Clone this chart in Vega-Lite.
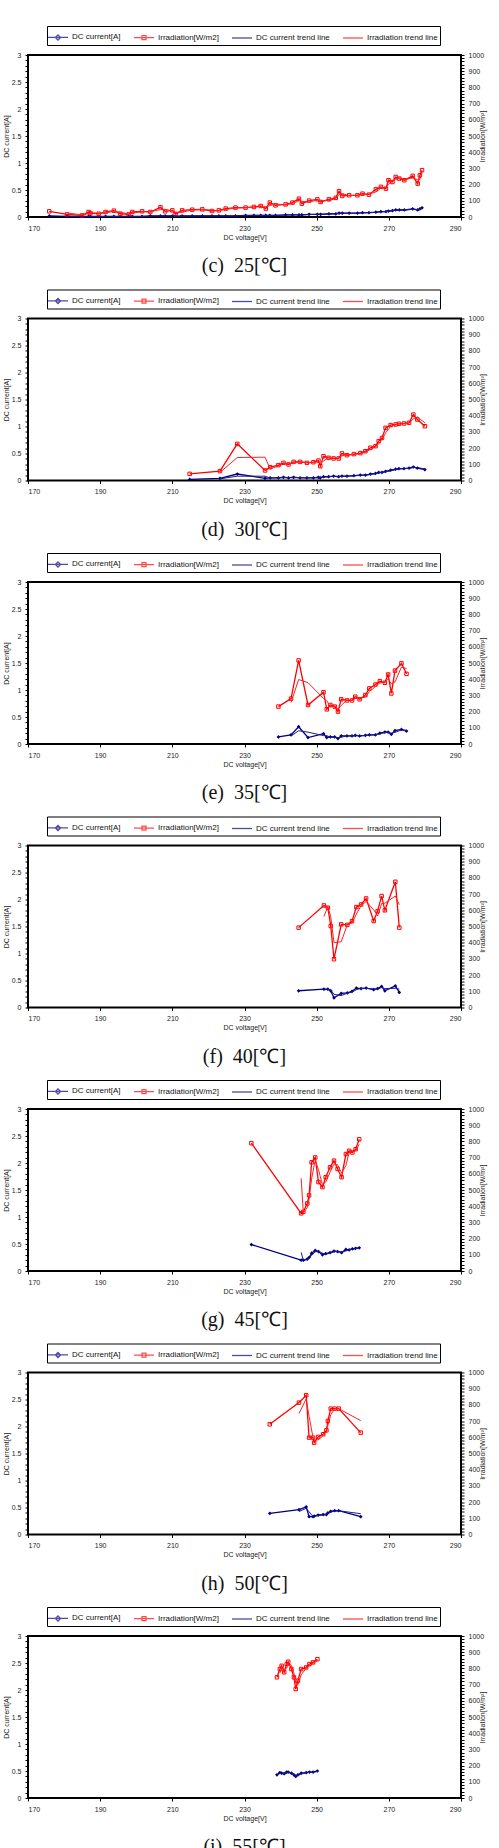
{
"$schema": "https://vega.github.io/schema/vega-lite/v6.json",
"background": "white",
"padding": {"left": 1, "right": 1, "top": 24, "bottom": 0},
"spacing": 10.5,
"config": {
  "view": {"stroke": "black", "strokeWidth": 2},
  "axis": {"labelFont": "Liberation Sans", "labelFontSize": 7, "labelColor": "#222", "titleFont": "Liberation Sans", "titleFontSize": 7, "titleFontWeight": "normal", "titleColor": "#222", "tickColor": "black", "tickSize": 3, "domain": false, "grid": false, "labelPadding": 4, "titlePadding": 2, "labelOverlap": false},
  "legend": {"labelFont": "Liberation Sans", "labelFontSize": 8, "labelColor": "#111", "symbolStrokeWidth": 1.3, "strokeColor": "black", "padding": 2, "columnPadding": 10, "labelOffset": 5, "symbolSize": 256, "labelLimit": 200},
  "title": {"orient": "bottom", "anchor": "middle", "font": "Liberation Serif", "fontSize": 20, "fontWeight": "normal", "color": "#111", "offset": 16}
},
"resolve": {"scale": {"color": "independent", "shape": "independent"}, "legend": {"color": "independent", "shape": "independent"}},
"datasets": {
"p25": [
{"i":1,"V":175.9,"W":35,"I":0.02},{"i":2,"V":180.8,"W":16,"I":0.01},{"i":3,"V":185,"W":10,"I":0.01},{"i":4,"V":186.8,"W":31,"I":0.01},{"i":5,"V":187.3,"W":24,"I":0.01},{"i":6,"V":189.6,"W":20,"I":0.01},{"i":7,"V":191.5,"W":31,"I":0.01},{"i":8,"V":193.8,"W":39,"I":0.01},{"i":9,"V":195.6,"W":20,"I":0.01},{"i":10,"V":197.9,"W":16,"I":0.01},{"i":11,"V":198.9,"W":31,"I":0.01},{"i":12,"V":201.6,"W":35,"I":0.01},{"i":13,"V":203.9,"W":31,"I":0.02},{"i":14,"V":206.7,"W":60,"I":0.02},{"i":15,"V":208,"W":35,"I":0.02},{"i":16,"V":210,"W":41,"I":0.02},{"i":17,"V":210.9,"W":18,"I":0.01},{"i":18,"V":212.7,"W":41,"I":0.02},{"i":19,"V":215.5,"W":45,"I":0.02},{"i":20,"V":218.3,"W":47,"I":0.02},{"i":21,"V":221,"W":37,"I":0.02},{"i":22,"V":222.9,"W":41,"I":0.02},{"i":23,"V":224.8,"W":52,"I":0.02},{"i":24,"V":227.5,"W":58,"I":0.02},{"i":25,"V":230.3,"W":58,"I":0.03},{"i":26,"V":232.6,"W":62,"I":0.03},{"i":27,"V":234.5,"W":68,"I":0.03},{"i":28,"V":235.9,"W":52,"I":0.03},{"i":29,"V":237,"W":89,"I":0.03},{"i":30,"V":238.6,"W":72,"I":0.03},{"i":31,"V":241.4,"W":78,"I":0.04},{"i":32,"V":243.3,"W":89,"I":0.04},{"i":33,"V":245.1,"W":113,"I":0.04},{"i":34,"V":245.9,"W":82,"I":0.04},{"i":35,"V":247.9,"W":101,"I":0.05},{"i":36,"V":250.2,"W":109,"I":0.05},{"i":37,"V":251.1,"W":93,"I":0.05},{"i":38,"V":253.4,"W":109,"I":0.06},{"i":39,"V":255.3,"W":118,"I":0.06},{"i":40,"V":256.2,"W":159,"I":0.07},{"i":41,"V":257.1,"W":130,"I":0.07},{"i":42,"V":259,"W":134,"I":0.07},{"i":43,"V":261.3,"W":134,"I":0.07},{"i":44,"V":262.7,"W":144,"I":0.08},{"i":45,"V":264.5,"W":138,"I":0.08},{"i":46,"V":266.4,"W":171,"I":0.09},{"i":47,"V":267.8,"W":186,"I":0.1},{"i":48,"V":269.2,"W":175,"I":0.1},{"i":49,"V":269.9,"W":227,"I":0.11},{"i":50,"V":271,"W":216,"I":0.12},{"i":51,"V":271.9,"W":247,"I":0.13},{"i":52,"V":272.9,"W":237,"I":0.13},{"i":53,"V":274.3,"W":227,"I":0.13},{"i":54,"V":276.6,"W":254,"I":0.15},{"i":55,"V":278,"W":206,"I":0.13},{"i":56,"V":278.6,"W":258,"I":0.15},{"i":57,"V":279.2,"W":289,"I":0.17}
],
"p30": [
{"i":1,"V":214.8,"W":41,"I":0.02},{"i":2,"V":223.2,"W":58,"I":0.04},{"i":3,"V":228,"W":226,"I":0.12},{"i":4,"V":235.7,"W":62,"I":0.04},{"i":5,"V":237.1,"W":82,"I":0.05},{"i":6,"V":239.4,"W":95,"I":0.05},{"i":7,"V":240.8,"W":109,"I":0.06},{"i":8,"V":242.2,"W":99,"I":0.05},{"i":9,"V":243.6,"W":115,"I":0.06},{"i":10,"V":245.4,"W":115,"I":0.05},{"i":11,"V":247.3,"W":109,"I":0.05},{"i":12,"V":249.1,"W":113,"I":0.05},{"i":13,"V":250.5,"W":123,"I":0.06},{"i":14,"V":251,"W":88,"I":0.05},{"i":15,"V":251.9,"W":150,"I":0.07},{"i":16,"V":253.3,"W":140,"I":0.07},{"i":17,"V":254.7,"W":136,"I":0.08},{"i":18,"V":256.1,"W":136,"I":0.07},{"i":19,"V":257,"W":167,"I":0.08},{"i":20,"V":258.4,"W":156,"I":0.08},{"i":21,"V":260.3,"W":163,"I":0.09},{"i":22,"V":262.1,"W":169,"I":0.1},{"i":23,"V":263.5,"W":181,"I":0.1},{"i":24,"V":264.9,"W":202,"I":0.12},{"i":25,"V":266.3,"W":212,"I":0.13},{"i":26,"V":267.2,"W":243,"I":0.15},{"i":27,"V":268.1,"W":263,"I":0.15},{"i":28,"V":269.1,"W":325,"I":0.17},{"i":29,"V":270.5,"W":342,"I":0.19},{"i":30,"V":271.9,"W":346,"I":0.21},{"i":31,"V":272.8,"W":350,"I":0.22},{"i":32,"V":274.2,"W":352,"I":0.22},{"i":33,"V":275.6,"W":356,"I":0.23},{"i":34,"V":276.8,"W":407,"I":0.25},{"i":35,"V":277.9,"W":377,"I":0.23},{"i":36,"V":280,"W":335,"I":0.2}
],
"p35": [
{"i":1,"V":239.4,"W":231,"I":0.13},{"i":2,"V":242.9,"W":280,"I":0.17},{"i":3,"V":245,"W":516,"I":0.32},{"i":4,"V":247.6,"W":241,"I":0.12},{"i":5,"V":251.9,"W":320,"I":0.19},{"i":6,"V":252.8,"W":214,"I":0.12},{"i":7,"V":253.8,"W":241,"I":0.13},{"i":8,"V":255,"W":231,"I":0.13},{"i":9,"V":255.9,"W":200,"I":0.1},{"i":10,"V":256.8,"W":276,"I":0.15},{"i":11,"V":258.4,"W":269,"I":0.15},{"i":12,"V":259.8,"W":269,"I":0.15},{"i":13,"V":260.7,"W":292,"I":0.16},{"i":14,"V":261.9,"W":276,"I":0.15},{"i":15,"V":263.5,"W":302,"I":0.16},{"i":16,"V":264.6,"W":343,"I":0.17},{"i":17,"V":266.3,"W":367,"I":0.17},{"i":18,"V":267.5,"W":388,"I":0.2},{"i":19,"V":268.9,"W":378,"I":0.22},{"i":20,"V":269.8,"W":429,"I":0.22},{"i":21,"V":270.7,"W":312,"I":0.18},{"i":22,"V":271.7,"W":453,"I":0.25},{"i":23,"V":273.5,"W":498,"I":0.27},{"i":24,"V":274.9,"W":433,"I":0.24}
],
"p40": [
{"i":1,"V":245,"W":493,"I":0.31},{"i":2,"V":252,"W":630,"I":0.34},{"i":3,"V":253.1,"W":616,"I":0.34},{"i":4,"V":253.9,"W":503,"I":0.31},{"i":5,"V":254.8,"W":298,"I":0.18},{"i":6,"V":256.8,"W":513,"I":0.26},{"i":7,"V":258.5,"W":510,"I":0.27},{"i":8,"V":259.8,"W":533,"I":0.3},{"i":9,"V":261,"W":620,"I":0.36},{"i":10,"V":262.3,"W":636,"I":0.35},{"i":11,"V":263.7,"W":673,"I":0.36},{"i":12,"V":265.8,"W":534,"I":0.33},{"i":13,"V":266.9,"W":595,"I":0.35},{"i":14,"V":268,"W":688,"I":0.39},{"i":15,"V":268.9,"W":600,"I":0.31},{"i":16,"V":271.8,"W":776,"I":0.4},{"i":17,"V":272.9,"W":493,"I":0.28}
],
"p45": [
{"i":1,"V":231.9,"W":789,"I":0.49},{"i":2,"V":245.7,"W":356,"I":0.2},{"i":3,"V":246.3,"W":365,"I":0.2},{"i":4,"V":247.4,"W":417,"I":0.22},{"i":5,"V":247.9,"W":467,"I":0.25},{"i":6,"V":248.6,"W":671,"I":0.33},{"i":7,"V":249.6,"W":701,"I":0.38},{"i":8,"V":250.5,"W":549,"I":0.36},{"i":9,"V":251.6,"W":518,"I":0.3},{"i":10,"V":252.5,"W":579,"I":0.32},{"i":11,"V":253.7,"W":640,"I":0.34},{"i":12,"V":254.8,"W":681,"I":0.37},{"i":13,"V":255.8,"W":630,"I":0.36},{"i":14,"V":256.9,"W":579,"I":0.34},{"i":15,"V":258.1,"W":722,"I":0.4},{"i":16,"V":259,"W":742,"I":0.39},{"i":17,"V":259.9,"W":732,"I":0.41},{"i":18,"V":260.8,"W":752,"I":0.42},{"i":19,"V":261.8,"W":813,"I":0.43}
],
"p50": [
{"i":1,"V":237,"W":680,"I":0.39},{"i":2,"V":245.1,"W":814,"I":0.46},{"i":3,"V":247.1,"W":860,"I":0.51},{"i":4,"V":247.9,"W":598,"I":0.33},{"i":5,"V":249,"W":598,"I":0.33},{"i":6,"V":249.3,"W":567,"I":0.34},{"i":7,"V":250.4,"W":602,"I":0.36},{"i":8,"V":251.8,"W":619,"I":0.37},{"i":9,"V":252.7,"W":643,"I":0.37},{"i":10,"V":253.1,"W":701,"I":0.4},{"i":11,"V":253.9,"W":777,"I":0.43},{"i":12,"V":255,"W":777,"I":0.44},{"i":13,"V":256.1,"W":777,"I":0.44},{"i":14,"V":262.2,"W":629,"I":0.33}
],
"p55": [
{"i":1,"V":239,"W":745,"I":0.43},{"i":2,"V":239.8,"W":796,"I":0.47},{"i":3,"V":240.3,"W":816,"I":0.46},{"i":4,"V":241,"W":776,"I":0.45},{"i":5,"V":241.7,"W":827,"I":0.48},{"i":6,"V":242.1,"W":841,"I":0.48},{"i":7,"V":243,"W":796,"I":0.46},{"i":8,"V":243.7,"W":745,"I":0.43},{"i":9,"V":244.2,"W":673,"I":0.4},{"i":10,"V":244.8,"W":724,"I":0.43},{"i":11,"V":245.7,"W":796,"I":0.46},{"i":12,"V":247.1,"W":806,"I":0.47},{"i":13,"V":248,"W":827,"I":0.48},{"i":14,"V":249,"W":837,"I":0.48},{"i":15,"V":250.2,"W":857,"I":0.5}
]
},
"vconcat": [
{"width":433,"height":162,"title":{"text":"(c)\u00a0 25[℃]"},"data":{"name":"p25"},
"layer":[
{"mark":{"type":"line","color":"#000080","strokeWidth":1.3,"point":{"shape":"diamond","filled":true,"size":14,"color":"#000080"}},
"encoding":{"x":{"field":"V","type":"quantitative","scale":{"domain":[170,290],"nice":false,"zero":false},"axis":{"title":"DC voltage[V]","values":[170,190,210,230,250,270,290],"format":"d"}},
"y":{"field":"I","type":"quantitative","scale":{"domain":[0,3],"nice":false},"axis":{"title":"DC current[A]","orient":"left","values":[0,0.1,0.2,0.3,0.4,0.5,0.6,0.7,0.8,0.9,1,1.1,1.2,1.3,1.4,1.5,1.6,1.7,1.8,1.9,2,2.1,2.2,2.3,2.4,2.5,2.6,2.7,2.8,2.9,3],"labelExpr":"round(datum.value*10) % 5 == 0 ? format(datum.value, '~g') : ''"}},
"order":{"field":"i","type":"quantitative"}}},
{"mark":{"type":"line","color":"#FF0000","strokeWidth":1.3,"point":{"shape":"square","filled":false,"size":12,"color":"#FF0000","strokeWidth":1}},
"encoding":{"x":{"field":"V","type":"quantitative"},
"y":{"field":"W","type":"quantitative","scale":{"domain":[0,1000],"nice":false},"axis":{"title":"Irradiation[W/m²]","orient":"right","titleAngle":270,"values":[0,20,40,60,80,100,120,140,160,180,200,220,240,260,280,300,320,340,360,380,400,420,440,460,480,500,520,540,560,580,600,620,640,660,680,700,720,740,760,780,800,820,840,860,880,900,920,940,960,980,1000],"labelExpr":"datum.value % 100 == 0 ? format(datum.value, 'd') : ''"}},
"order":{"field":"i","type":"quantitative"}}},
{"transform":[{"window":[{"op":"mean","field":"I","as":"It"},{"op":"row_number","as":"rn"}],"frame":[-1,0],"sort":[{"field":"i"}]},{"filter":"datum.rn > 1"}],
"mark":{"type":"line","color":"#1c1c8e","strokeWidth":1},
"encoding":{"x":{"field":"V","type":"quantitative"},"y":{"field":"It","type":"quantitative","scale":{"domain":[0,3],"nice":false},"axis":null},"order":{"field":"i","type":"quantitative"}}},
{"transform":[{"window":[{"op":"mean","field":"W","as":"Wt"},{"op":"row_number","as":"rn"}],"frame":[-1,0],"sort":[{"field":"i"}]},{"filter":"datum.rn > 1"}],
"mark":{"type":"line","color":"#FF2020","strokeWidth":1},
"encoding":{"x":{"field":"V","type":"quantitative"},"y":{"field":"Wt","type":"quantitative","scale":{"domain":[0,1000],"nice":false},"axis":null},"order":{"field":"i","type":"quantitative"}}},
{"transform":[{"filter":"false"}],"mark":{"type":"point","filled":false},
"encoding":{"color":{"field":"s","type":"nominal","scale":{"domain":["DC current[A]","Irradiation[W/m2]","DC current trend line","Irradiation trend line"],"range":["#000080","#FF0000","#000080","#FF0000"]},"legend":{"title":null,"orient":"none","legendX":19,"legendY":-29,"direction":"horizontal"}},
"shape":{"field":"s","type":"nominal","scale":{"domain":["DC current[A]","Irradiation[W/m2]","DC current trend line","Irradiation trend line"],"range":["M-1.25,0H1.25M0,-0.32L0.32,0L0,0.32L-0.32,0Z","M-1.25,0H1.25M-0.25,-0.25H0.25V0.25H-0.25Z","M-1.25,0H1.25","M-1.25,0H1.25"]},"legend":{"title":null,"orient":"none","legendX":19,"legendY":-29,"direction":"horizontal"}}}}
],
"resolve":{"scale":{"y":"independent"}}},

{"width":433,"height":162,"title":{"text":"(d)\u00a0 30[℃]"},"data":{"name":"p30"},
"layer":[
{"mark":{"type":"line","color":"#000080","strokeWidth":1.3,"point":{"shape":"diamond","filled":true,"size":14,"color":"#000080"}},
"encoding":{"x":{"field":"V","type":"quantitative","scale":{"domain":[170,290],"nice":false,"zero":false},"axis":{"title":"DC voltage[V]","values":[170,190,210,230,250,270,290],"format":"d"}},
"y":{"field":"I","type":"quantitative","scale":{"domain":[0,3],"nice":false},"axis":{"title":"DC current[A]","orient":"left","values":[0,0.1,0.2,0.3,0.4,0.5,0.6,0.7,0.8,0.9,1,1.1,1.2,1.3,1.4,1.5,1.6,1.7,1.8,1.9,2,2.1,2.2,2.3,2.4,2.5,2.6,2.7,2.8,2.9,3],"labelExpr":"round(datum.value*10) % 5 == 0 ? format(datum.value, '~g') : ''"}},
"order":{"field":"i","type":"quantitative"}}},
{"mark":{"type":"line","color":"#FF0000","strokeWidth":1.3,"point":{"shape":"square","filled":false,"size":12,"color":"#FF0000","strokeWidth":1}},
"encoding":{"x":{"field":"V","type":"quantitative"},
"y":{"field":"W","type":"quantitative","scale":{"domain":[0,1000],"nice":false},"axis":{"title":"Irradiation[W/m²]","orient":"right","titleAngle":270,"values":[0,20,40,60,80,100,120,140,160,180,200,220,240,260,280,300,320,340,360,380,400,420,440,460,480,500,520,540,560,580,600,620,640,660,680,700,720,740,760,780,800,820,840,860,880,900,920,940,960,980,1000],"labelExpr":"datum.value % 100 == 0 ? format(datum.value, 'd') : ''"}},
"order":{"field":"i","type":"quantitative"}}},
{"transform":[{"window":[{"op":"mean","field":"I","as":"It"},{"op":"row_number","as":"rn"}],"frame":[-1,0],"sort":[{"field":"i"}]},{"filter":"datum.rn > 1"}],
"mark":{"type":"line","color":"#1c1c8e","strokeWidth":1},
"encoding":{"x":{"field":"V","type":"quantitative"},"y":{"field":"It","type":"quantitative","scale":{"domain":[0,3],"nice":false},"axis":null},"order":{"field":"i","type":"quantitative"}}},
{"transform":[{"window":[{"op":"mean","field":"W","as":"Wt"},{"op":"row_number","as":"rn"}],"frame":[-1,0],"sort":[{"field":"i"}]},{"filter":"datum.rn > 1"}],
"mark":{"type":"line","color":"#FF2020","strokeWidth":1},
"encoding":{"x":{"field":"V","type":"quantitative"},"y":{"field":"Wt","type":"quantitative","scale":{"domain":[0,1000],"nice":false},"axis":null},"order":{"field":"i","type":"quantitative"}}},
{"transform":[{"filter":"false"}],"mark":{"type":"point","filled":false},
"encoding":{"color":{"field":"s","type":"nominal","scale":{"domain":["DC current[A]","Irradiation[W/m2]","DC current trend line","Irradiation trend line"],"range":["#000080","#FF0000","#000080","#FF0000"]},"legend":{"title":null,"orient":"none","legendX":19,"legendY":-29,"direction":"horizontal"}},
"shape":{"field":"s","type":"nominal","scale":{"domain":["DC current[A]","Irradiation[W/m2]","DC current trend line","Irradiation trend line"],"range":["M-1.25,0H1.25M0,-0.32L0.32,0L0,0.32L-0.32,0Z","M-1.25,0H1.25M-0.25,-0.25H0.25V0.25H-0.25Z","M-1.25,0H1.25","M-1.25,0H1.25"]},"legend":{"title":null,"orient":"none","legendX":19,"legendY":-29,"direction":"horizontal"}}}}
],
"resolve":{"scale":{"y":"independent"}}},

{"width":433,"height":162,"title":{"text":"(e)\u00a0 35[℃]"},"data":{"name":"p35"},
"layer":[
{"mark":{"type":"line","color":"#000080","strokeWidth":1.3,"point":{"shape":"diamond","filled":true,"size":14,"color":"#000080"}},
"encoding":{"x":{"field":"V","type":"quantitative","scale":{"domain":[170,290],"nice":false,"zero":false},"axis":{"title":"DC voltage[V]","values":[170,190,210,230,250,270,290],"format":"d"}},
"y":{"field":"I","type":"quantitative","scale":{"domain":[0,3],"nice":false},"axis":{"title":"DC current[A]","orient":"left","values":[0,0.1,0.2,0.3,0.4,0.5,0.6,0.7,0.8,0.9,1,1.1,1.2,1.3,1.4,1.5,1.6,1.7,1.8,1.9,2,2.1,2.2,2.3,2.4,2.5,2.6,2.7,2.8,2.9,3],"labelExpr":"round(datum.value*10) % 5 == 0 ? format(datum.value, '~g') : ''"}},
"order":{"field":"i","type":"quantitative"}}},
{"mark":{"type":"line","color":"#FF0000","strokeWidth":1.3,"point":{"shape":"square","filled":false,"size":12,"color":"#FF0000","strokeWidth":1}},
"encoding":{"x":{"field":"V","type":"quantitative"},
"y":{"field":"W","type":"quantitative","scale":{"domain":[0,1000],"nice":false},"axis":{"title":"Irradiation[W/m²]","orient":"right","titleAngle":270,"values":[0,20,40,60,80,100,120,140,160,180,200,220,240,260,280,300,320,340,360,380,400,420,440,460,480,500,520,540,560,580,600,620,640,660,680,700,720,740,760,780,800,820,840,860,880,900,920,940,960,980,1000],"labelExpr":"datum.value % 100 == 0 ? format(datum.value, 'd') : ''"}},
"order":{"field":"i","type":"quantitative"}}},
{"transform":[{"window":[{"op":"mean","field":"I","as":"It"},{"op":"row_number","as":"rn"}],"frame":[-1,0],"sort":[{"field":"i"}]},{"filter":"datum.rn > 1"}],
"mark":{"type":"line","color":"#1c1c8e","strokeWidth":1},
"encoding":{"x":{"field":"V","type":"quantitative"},"y":{"field":"It","type":"quantitative","scale":{"domain":[0,3],"nice":false},"axis":null},"order":{"field":"i","type":"quantitative"}}},
{"transform":[{"window":[{"op":"mean","field":"W","as":"Wt"},{"op":"row_number","as":"rn"}],"frame":[-1,0],"sort":[{"field":"i"}]},{"filter":"datum.rn > 1"}],
"mark":{"type":"line","color":"#FF2020","strokeWidth":1},
"encoding":{"x":{"field":"V","type":"quantitative"},"y":{"field":"Wt","type":"quantitative","scale":{"domain":[0,1000],"nice":false},"axis":null},"order":{"field":"i","type":"quantitative"}}},
{"transform":[{"filter":"false"}],"mark":{"type":"point","filled":false},
"encoding":{"color":{"field":"s","type":"nominal","scale":{"domain":["DC current[A]","Irradiation[W/m2]","DC current trend line","Irradiation trend line"],"range":["#000080","#FF0000","#000080","#FF0000"]},"legend":{"title":null,"orient":"none","legendX":19,"legendY":-29,"direction":"horizontal"}},
"shape":{"field":"s","type":"nominal","scale":{"domain":["DC current[A]","Irradiation[W/m2]","DC current trend line","Irradiation trend line"],"range":["M-1.25,0H1.25M0,-0.32L0.32,0L0,0.32L-0.32,0Z","M-1.25,0H1.25M-0.25,-0.25H0.25V0.25H-0.25Z","M-1.25,0H1.25","M-1.25,0H1.25"]},"legend":{"title":null,"orient":"none","legendX":19,"legendY":-29,"direction":"horizontal"}}}}
],
"resolve":{"scale":{"y":"independent"}}},

{"width":433,"height":162,"title":{"text":"(f)\u00a0 40[℃]"},"data":{"name":"p40"},
"layer":[
{"mark":{"type":"line","color":"#000080","strokeWidth":1.3,"point":{"shape":"diamond","filled":true,"size":14,"color":"#000080"}},
"encoding":{"x":{"field":"V","type":"quantitative","scale":{"domain":[170,290],"nice":false,"zero":false},"axis":{"title":"DC voltage[V]","values":[170,190,210,230,250,270,290],"format":"d"}},
"y":{"field":"I","type":"quantitative","scale":{"domain":[0,3],"nice":false},"axis":{"title":"DC current[A]","orient":"left","values":[0,0.1,0.2,0.3,0.4,0.5,0.6,0.7,0.8,0.9,1,1.1,1.2,1.3,1.4,1.5,1.6,1.7,1.8,1.9,2,2.1,2.2,2.3,2.4,2.5,2.6,2.7,2.8,2.9,3],"labelExpr":"round(datum.value*10) % 5 == 0 ? format(datum.value, '~g') : ''"}},
"order":{"field":"i","type":"quantitative"}}},
{"mark":{"type":"line","color":"#FF0000","strokeWidth":1.3,"point":{"shape":"square","filled":false,"size":12,"color":"#FF0000","strokeWidth":1}},
"encoding":{"x":{"field":"V","type":"quantitative"},
"y":{"field":"W","type":"quantitative","scale":{"domain":[0,1000],"nice":false},"axis":{"title":"Irradiation[W/m²]","orient":"right","titleAngle":270,"values":[0,20,40,60,80,100,120,140,160,180,200,220,240,260,280,300,320,340,360,380,400,420,440,460,480,500,520,540,560,580,600,620,640,660,680,700,720,740,760,780,800,820,840,860,880,900,920,940,960,980,1000],"labelExpr":"datum.value % 100 == 0 ? format(datum.value, 'd') : ''"}},
"order":{"field":"i","type":"quantitative"}}},
{"transform":[{"window":[{"op":"mean","field":"I","as":"It"},{"op":"row_number","as":"rn"}],"frame":[-1,0],"sort":[{"field":"i"}]},{"filter":"datum.rn > 1"}],
"mark":{"type":"line","color":"#1c1c8e","strokeWidth":1},
"encoding":{"x":{"field":"V","type":"quantitative"},"y":{"field":"It","type":"quantitative","scale":{"domain":[0,3],"nice":false},"axis":null},"order":{"field":"i","type":"quantitative"}}},
{"transform":[{"window":[{"op":"mean","field":"W","as":"Wt"},{"op":"row_number","as":"rn"}],"frame":[-1,0],"sort":[{"field":"i"}]},{"filter":"datum.rn > 1"}],
"mark":{"type":"line","color":"#FF2020","strokeWidth":1},
"encoding":{"x":{"field":"V","type":"quantitative"},"y":{"field":"Wt","type":"quantitative","scale":{"domain":[0,1000],"nice":false},"axis":null},"order":{"field":"i","type":"quantitative"}}},
{"transform":[{"filter":"false"}],"mark":{"type":"point","filled":false},
"encoding":{"color":{"field":"s","type":"nominal","scale":{"domain":["DC current[A]","Irradiation[W/m2]","DC current trend line","Irradiation trend line"],"range":["#000080","#FF0000","#000080","#FF0000"]},"legend":{"title":null,"orient":"none","legendX":19,"legendY":-29,"direction":"horizontal"}},
"shape":{"field":"s","type":"nominal","scale":{"domain":["DC current[A]","Irradiation[W/m2]","DC current trend line","Irradiation trend line"],"range":["M-1.25,0H1.25M0,-0.32L0.32,0L0,0.32L-0.32,0Z","M-1.25,0H1.25M-0.25,-0.25H0.25V0.25H-0.25Z","M-1.25,0H1.25","M-1.25,0H1.25"]},"legend":{"title":null,"orient":"none","legendX":19,"legendY":-29,"direction":"horizontal"}}}}
],
"resolve":{"scale":{"y":"independent"}}},

{"width":433,"height":162,"title":{"text":"(g)\u00a0 45[℃]"},"data":{"name":"p45"},
"layer":[
{"mark":{"type":"line","color":"#000080","strokeWidth":1.3,"point":{"shape":"diamond","filled":true,"size":14,"color":"#000080"}},
"encoding":{"x":{"field":"V","type":"quantitative","scale":{"domain":[170,290],"nice":false,"zero":false},"axis":{"title":"DC voltage[V]","values":[170,190,210,230,250,270,290],"format":"d"}},
"y":{"field":"I","type":"quantitative","scale":{"domain":[0,3],"nice":false},"axis":{"title":"DC current[A]","orient":"left","values":[0,0.1,0.2,0.3,0.4,0.5,0.6,0.7,0.8,0.9,1,1.1,1.2,1.3,1.4,1.5,1.6,1.7,1.8,1.9,2,2.1,2.2,2.3,2.4,2.5,2.6,2.7,2.8,2.9,3],"labelExpr":"round(datum.value*10) % 5 == 0 ? format(datum.value, '~g') : ''"}},
"order":{"field":"i","type":"quantitative"}}},
{"mark":{"type":"line","color":"#FF0000","strokeWidth":1.3,"point":{"shape":"square","filled":false,"size":12,"color":"#FF0000","strokeWidth":1}},
"encoding":{"x":{"field":"V","type":"quantitative"},
"y":{"field":"W","type":"quantitative","scale":{"domain":[0,1000],"nice":false},"axis":{"title":"Irradiation[W/m²]","orient":"right","titleAngle":270,"values":[0,20,40,60,80,100,120,140,160,180,200,220,240,260,280,300,320,340,360,380,400,420,440,460,480,500,520,540,560,580,600,620,640,660,680,700,720,740,760,780,800,820,840,860,880,900,920,940,960,980,1000],"labelExpr":"datum.value % 100 == 0 ? format(datum.value, 'd') : ''"}},
"order":{"field":"i","type":"quantitative"}}},
{"transform":[{"window":[{"op":"mean","field":"I","as":"It"},{"op":"row_number","as":"rn"}],"frame":[-1,0],"sort":[{"field":"i"}]},{"filter":"datum.rn > 1"}],
"mark":{"type":"line","color":"#1c1c8e","strokeWidth":1},
"encoding":{"x":{"field":"V","type":"quantitative"},"y":{"field":"It","type":"quantitative","scale":{"domain":[0,3],"nice":false},"axis":null},"order":{"field":"i","type":"quantitative"}}},
{"transform":[{"window":[{"op":"mean","field":"W","as":"Wt"},{"op":"row_number","as":"rn"}],"frame":[-1,0],"sort":[{"field":"i"}]},{"filter":"datum.rn > 1"}],
"mark":{"type":"line","color":"#FF2020","strokeWidth":1},
"encoding":{"x":{"field":"V","type":"quantitative"},"y":{"field":"Wt","type":"quantitative","scale":{"domain":[0,1000],"nice":false},"axis":null},"order":{"field":"i","type":"quantitative"}}},
{"transform":[{"filter":"false"}],"mark":{"type":"point","filled":false},
"encoding":{"color":{"field":"s","type":"nominal","scale":{"domain":["DC current[A]","Irradiation[W/m2]","DC current trend line","Irradiation trend line"],"range":["#000080","#FF0000","#000080","#FF0000"]},"legend":{"title":null,"orient":"none","legendX":19,"legendY":-29,"direction":"horizontal"}},
"shape":{"field":"s","type":"nominal","scale":{"domain":["DC current[A]","Irradiation[W/m2]","DC current trend line","Irradiation trend line"],"range":["M-1.25,0H1.25M0,-0.32L0.32,0L0,0.32L-0.32,0Z","M-1.25,0H1.25M-0.25,-0.25H0.25V0.25H-0.25Z","M-1.25,0H1.25","M-1.25,0H1.25"]},"legend":{"title":null,"orient":"none","legendX":19,"legendY":-29,"direction":"horizontal"}}}}
],
"resolve":{"scale":{"y":"independent"}}},

{"width":433,"height":162,"title":{"text":"(h)\u00a0 50[℃]"},"data":{"name":"p50"},
"layer":[
{"mark":{"type":"line","color":"#000080","strokeWidth":1.3,"point":{"shape":"diamond","filled":true,"size":14,"color":"#000080"}},
"encoding":{"x":{"field":"V","type":"quantitative","scale":{"domain":[170,290],"nice":false,"zero":false},"axis":{"title":"DC voltage[V]","values":[170,190,210,230,250,270,290],"format":"d"}},
"y":{"field":"I","type":"quantitative","scale":{"domain":[0,3],"nice":false},"axis":{"title":"DC current[A]","orient":"left","values":[0,0.1,0.2,0.3,0.4,0.5,0.6,0.7,0.8,0.9,1,1.1,1.2,1.3,1.4,1.5,1.6,1.7,1.8,1.9,2,2.1,2.2,2.3,2.4,2.5,2.6,2.7,2.8,2.9,3],"labelExpr":"round(datum.value*10) % 5 == 0 ? format(datum.value, '~g') : ''"}},
"order":{"field":"i","type":"quantitative"}}},
{"mark":{"type":"line","color":"#FF0000","strokeWidth":1.3,"point":{"shape":"square","filled":false,"size":12,"color":"#FF0000","strokeWidth":1}},
"encoding":{"x":{"field":"V","type":"quantitative"},
"y":{"field":"W","type":"quantitative","scale":{"domain":[0,1000],"nice":false},"axis":{"title":"Irradiation[W/m²]","orient":"right","titleAngle":270,"values":[0,20,40,60,80,100,120,140,160,180,200,220,240,260,280,300,320,340,360,380,400,420,440,460,480,500,520,540,560,580,600,620,640,660,680,700,720,740,760,780,800,820,840,860,880,900,920,940,960,980,1000],"labelExpr":"datum.value % 100 == 0 ? format(datum.value, 'd') : ''"}},
"order":{"field":"i","type":"quantitative"}}},
{"transform":[{"window":[{"op":"mean","field":"I","as":"It"},{"op":"row_number","as":"rn"}],"frame":[-1,0],"sort":[{"field":"i"}]},{"filter":"datum.rn > 1"}],
"mark":{"type":"line","color":"#1c1c8e","strokeWidth":1},
"encoding":{"x":{"field":"V","type":"quantitative"},"y":{"field":"It","type":"quantitative","scale":{"domain":[0,3],"nice":false},"axis":null},"order":{"field":"i","type":"quantitative"}}},
{"transform":[{"window":[{"op":"mean","field":"W","as":"Wt"},{"op":"row_number","as":"rn"}],"frame":[-1,0],"sort":[{"field":"i"}]},{"filter":"datum.rn > 1"}],
"mark":{"type":"line","color":"#FF2020","strokeWidth":1},
"encoding":{"x":{"field":"V","type":"quantitative"},"y":{"field":"Wt","type":"quantitative","scale":{"domain":[0,1000],"nice":false},"axis":null},"order":{"field":"i","type":"quantitative"}}},
{"transform":[{"filter":"false"}],"mark":{"type":"point","filled":false},
"encoding":{"color":{"field":"s","type":"nominal","scale":{"domain":["DC current[A]","Irradiation[W/m2]","DC current trend line","Irradiation trend line"],"range":["#000080","#FF0000","#000080","#FF0000"]},"legend":{"title":null,"orient":"none","legendX":19,"legendY":-29,"direction":"horizontal"}},
"shape":{"field":"s","type":"nominal","scale":{"domain":["DC current[A]","Irradiation[W/m2]","DC current trend line","Irradiation trend line"],"range":["M-1.25,0H1.25M0,-0.32L0.32,0L0,0.32L-0.32,0Z","M-1.25,0H1.25M-0.25,-0.25H0.25V0.25H-0.25Z","M-1.25,0H1.25","M-1.25,0H1.25"]},"legend":{"title":null,"orient":"none","legendX":19,"legendY":-29,"direction":"horizontal"}}}}
],
"resolve":{"scale":{"y":"independent"}}},

{"width":433,"height":162,"title":{"text":"(i)\u00a0 55[℃]"},"data":{"name":"p55"},
"layer":[
{"mark":{"type":"line","color":"#000080","strokeWidth":1.3,"point":{"shape":"diamond","filled":true,"size":14,"color":"#000080"}},
"encoding":{"x":{"field":"V","type":"quantitative","scale":{"domain":[170,290],"nice":false,"zero":false},"axis":{"title":"DC voltage[V]","values":[170,190,210,230,250,270,290],"format":"d"}},
"y":{"field":"I","type":"quantitative","scale":{"domain":[0,3],"nice":false},"axis":{"title":"DC current[A]","orient":"left","values":[0,0.1,0.2,0.3,0.4,0.5,0.6,0.7,0.8,0.9,1,1.1,1.2,1.3,1.4,1.5,1.6,1.7,1.8,1.9,2,2.1,2.2,2.3,2.4,2.5,2.6,2.7,2.8,2.9,3],"labelExpr":"round(datum.value*10) % 5 == 0 ? format(datum.value, '~g') : ''"}},
"order":{"field":"i","type":"quantitative"}}},
{"mark":{"type":"line","color":"#FF0000","strokeWidth":1.3,"point":{"shape":"square","filled":false,"size":12,"color":"#FF0000","strokeWidth":1}},
"encoding":{"x":{"field":"V","type":"quantitative"},
"y":{"field":"W","type":"quantitative","scale":{"domain":[0,1000],"nice":false},"axis":{"title":"Irradiation[W/m²]","orient":"right","titleAngle":270,"values":[0,20,40,60,80,100,120,140,160,180,200,220,240,260,280,300,320,340,360,380,400,420,440,460,480,500,520,540,560,580,600,620,640,660,680,700,720,740,760,780,800,820,840,860,880,900,920,940,960,980,1000],"labelExpr":"datum.value % 100 == 0 ? format(datum.value, 'd') : ''"}},
"order":{"field":"i","type":"quantitative"}}},
{"transform":[{"window":[{"op":"mean","field":"I","as":"It"},{"op":"row_number","as":"rn"}],"frame":[-1,0],"sort":[{"field":"i"}]},{"filter":"datum.rn > 1"}],
"mark":{"type":"line","color":"#1c1c8e","strokeWidth":1},
"encoding":{"x":{"field":"V","type":"quantitative"},"y":{"field":"It","type":"quantitative","scale":{"domain":[0,3],"nice":false},"axis":null},"order":{"field":"i","type":"quantitative"}}},
{"transform":[{"window":[{"op":"mean","field":"W","as":"Wt"},{"op":"row_number","as":"rn"}],"frame":[-1,0],"sort":[{"field":"i"}]},{"filter":"datum.rn > 1"}],
"mark":{"type":"line","color":"#FF2020","strokeWidth":1},
"encoding":{"x":{"field":"V","type":"quantitative"},"y":{"field":"Wt","type":"quantitative","scale":{"domain":[0,1000],"nice":false},"axis":null},"order":{"field":"i","type":"quantitative"}}},
{"transform":[{"filter":"false"}],"mark":{"type":"point","filled":false},
"encoding":{"color":{"field":"s","type":"nominal","scale":{"domain":["DC current[A]","Irradiation[W/m2]","DC current trend line","Irradiation trend line"],"range":["#000080","#FF0000","#000080","#FF0000"]},"legend":{"title":null,"orient":"none","legendX":19,"legendY":-29,"direction":"horizontal"}},
"shape":{"field":"s","type":"nominal","scale":{"domain":["DC current[A]","Irradiation[W/m2]","DC current trend line","Irradiation trend line"],"range":["M-1.25,0H1.25M0,-0.32L0.32,0L0,0.32L-0.32,0Z","M-1.25,0H1.25M-0.25,-0.25H0.25V0.25H-0.25Z","M-1.25,0H1.25","M-1.25,0H1.25"]},"legend":{"title":null,"orient":"none","legendX":19,"legendY":-29,"direction":"horizontal"}}}}
],
"resolve":{"scale":{"y":"independent"}}}
]
}
